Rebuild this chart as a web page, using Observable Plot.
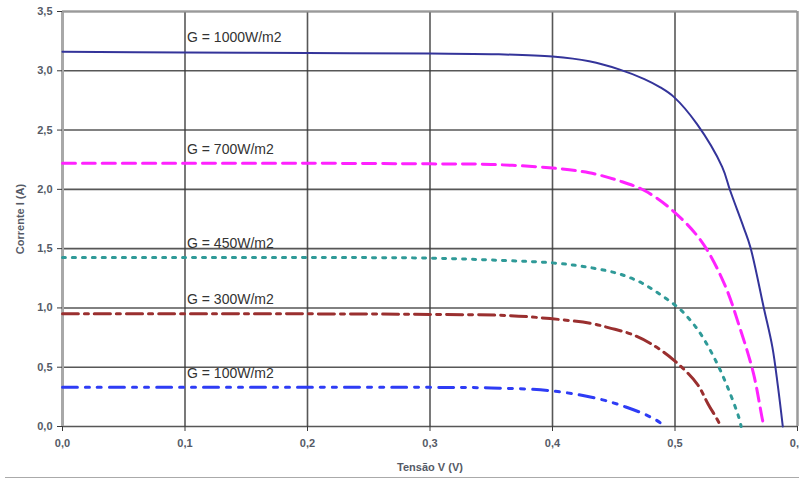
<!DOCTYPE html>
<html>
<head>
<meta charset="utf-8">
<script src="https://cdn.jsdelivr.net/npm/d3@7"></script>
<script src="https://cdn.jsdelivr.net/npm/@observablehq/plot@0.6"></script>
<style>
  html, body { margin: 0; padding: 0; background: #fff; }
  #chart { position: relative; width: 799px; height: 479px; overflow: hidden; }
  #baseline { position: absolute; left: 5px; right: 0; top: 477px; height: 0; border-top: 1px solid #aaa; }
</style>
</head>
<body>
<div id="chart"><div id="baseline"></div></div>
<script>
// Series: voltage (V) and current (A)
const labels = ["G = 1000W/m2", "G = 700W/m2", "G = 450W/m2", "G = 300W/m2", "G = 100W/m2"];

const v1000 = [0, 0.1, 0.2, 0.3, 0.35, 0.4, 0.43, 0.455, 0.475, 0.488, 0.499, 0.518, 0.5385, 0.545, 0.556, 0.5616, 0.5725, 0.5795, 0.584, 0.588];
const i1000 = [3.16, 3.155, 3.15, 3.145, 3.14, 3.12, 3.08, 3.01, 2.93, 2.86, 2.78, 2.55, 2.19, 1.99, 1.68, 1.51, 1.00, 0.67, 0.34, 0.0];

const v700 = [0, 0.1, 0.2, 0.3, 0.35, 0.4, 0.43, 0.455, 0.475, 0.496, 0.521, 0.540, 0.553, 0.564, 0.572, 0.573];
const i700 = [2.22, 2.22, 2.22, 2.215, 2.21, 2.18, 2.14, 2.07, 1.99, 1.84, 1.57, 1.21, 0.83, 0.45, 0.03, 0.0];

const v450 = [0, 0.1, 0.2, 0.3, 0.36, 0.4, 0.425, 0.45, 0.462, 0.473, 0.484, 0.494, 0.504, 0.513, 0.521, 0.533, 0.543, 0.552, 0.554];
const i450 = [1.425, 1.425, 1.425, 1.42, 1.40, 1.38, 1.35, 1.30, 1.26, 1.21, 1.14, 1.07, 0.99, 0.89, 0.78, 0.56, 0.33, 0.08, 0.0];

const v300 = [0, 0.1, 0.2, 0.3, 0.363, 0.398, 0.431, 0.447, 0.464, 0.48, 0.499, 0.518, 0.527, 0.536, 0.537];
const i300 = [0.95, 0.95, 0.95, 0.945, 0.936, 0.91, 0.87, 0.83, 0.78, 0.70, 0.56, 0.36, 0.19, 0.03, 0.0];

const v100 = [0, 0.1, 0.2, 0.3, 0.35, 0.4, 0.439, 0.461, 0.478, 0.488, 0.49];
const i100 = [0.33, 0.33, 0.33, 0.33, 0.325, 0.30, 0.23, 0.16, 0.09, 0.03, 0.0];

const xTicks = [0, 0.1, 0.2, 0.3, 0.4, 0.5, 0.6];
const yTicks = [0, 0.5, 1.0, 1.5, 2.0, 2.5, 3.0, 3.5];

const seriesV = [v1000, v700, v450, v300, v100];
const seriesI = [i1000, i700, i450, i300, i100];

const styles = [
  {stroke: "#34349a", strokeWidth: 2, dash: null},
  {stroke: "#ff22ff", strokeWidth: 3, dash: "13,7"},
  {stroke: "#2f9a98", strokeWidth: 3, dash: "3,7"},
  {stroke: "#9a2f2f", strokeWidth: 3, dash: "16,6,4,6"},
  {stroke: "#2e3cf5", strokeWidth: 3, dash: "15,8,4,8,4,8"}
];

const fmt = d => d.toFixed(1).replace(".", ",");

const lineMarks = seriesV.map((vs, k) => {
  const data = vs.map((v, j) => ({v, i: seriesI[k][j]}));
  const s = styles[k];
  return Plot.line(data, {
    x: "v", y: "i", curve: "catmull-rom",
    stroke: s.stroke, strokeWidth: s.strokeWidth,
    strokeDasharray: s.dash || undefined
  });
});

const labelData = labels.map((t, k) => ({t, v: 0.1, i: seriesI[k][0] + 0.12}));

const chart = Plot.plot({
  width: 799,
  height: 479,
  marginLeft: 62,
  marginRight: 2,
  marginTop: 11,
  marginBottom: 53,
  style: {fontFamily: "'Liberation Sans', Arial, sans-serif", background: "transparent"},
  x: {domain: [0, 0.6]},
  y: {domain: [0, 3.5]},
  marks: [
    Plot.gridX(xTicks, {stroke: "#3a3a3a", strokeOpacity: 0.85, strokeWidth: 1.6}),
    Plot.gridY(yTicks, {stroke: "#3a3a3a", strokeOpacity: 0.85, strokeWidth: 1.6}),
    Plot.ruleX([0], {stroke: "#a8a8a8", strokeWidth: 3}),
    Plot.ruleY([3.5], {stroke: "#9a9a9a", strokeWidth: 2}),
    Plot.ruleX([0.6], {stroke: "#9a9a9a", strokeWidth: 2}),
    Plot.axisX(xTicks, {
      tickFormat: fmt, tickSize: 5, tickPadding: 8, stroke: "#3a3a3a",
      fontSize: 11, fontWeight: "bold", fill: "#555a66",
      label: "Tensão V (V)", labelAnchor: "center", labelArrow: "none", labelOffset: 44
    }),
    Plot.axisY(yTicks, {
      tickFormat: fmt, tickSize: 5, tickPadding: 5, stroke: "#3a3a3a",
      fontSize: 11, fontWeight: "bold", fill: "#555a66",
      label: "Corrente I (A)", labelAnchor: "center", labelArrow: "none", labelOffset: 46
    }),
    ...lineMarks,
    Plot.text(labelData, {
      x: "v", y: "i", text: "t", textAnchor: "start", dx: 2,
      fontSize: 14, fill: "#333"
    })
  ]
});

document.getElementById("chart").appendChild(chart);
</script>
</body>
</html>
